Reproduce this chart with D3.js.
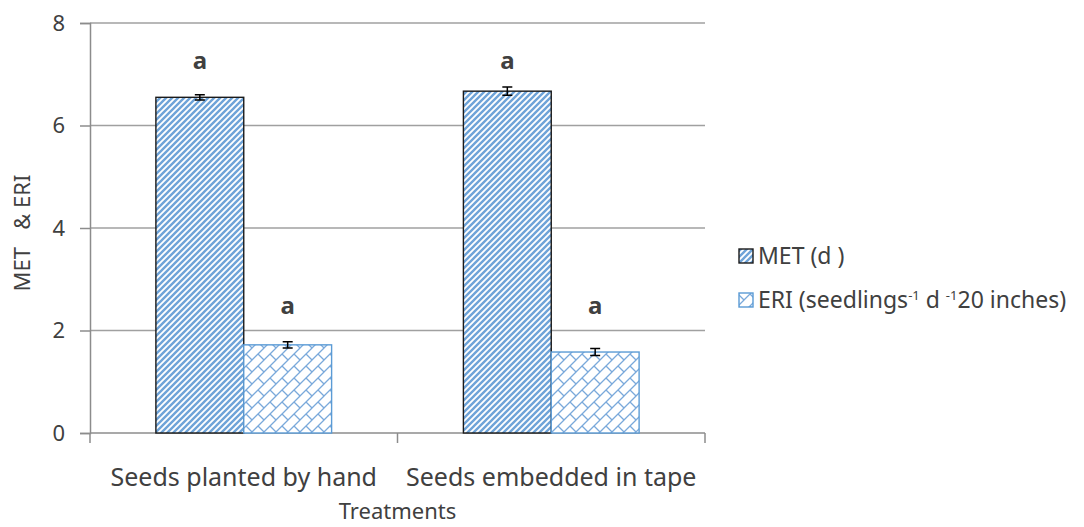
<!DOCTYPE html>
<html>
<head>
<meta charset="utf-8">
<script src="https://cdn.jsdelivr.net/npm/d3@7"></script>
<style>
  html, body { margin: 0; padding: 0; background: #fff; }
  svg { display: block; }
  text { font-family: "Noto Sans", "Open Sans", sans-serif; fill: #404040; }
</style>
</head>
<body>
<svg id="chart" width="1084" height="527"></svg>
<script>
// ---- data ----
const categories = ["Seeds planted by hand", "Seeds embedded in tape"];
const seriesNames = ["MET", "ERI"];
const metValues = [6.55, 6.67];
const eriValues = [1.72, 1.58];
const metErrors = [0.05, 0.08];
const eriErrors = [0.06, 0.07];
const metLetters = ["a", "a"];
const eriLetters = ["a", "a"];
const metLetterY = [7.1, 7.1];
const eriLetterY = [2.32, 2.32];
const yTicks = [0, 2, 4, 6, 8];
const yTitle = "MET   & ERI";
const xTitle = "Treatments";

const svg = d3.select("#chart");
const plotL = 90, plotR = 705, plotT = 23, plotB = 433;

const x0 = d3.scaleBand().domain(categories).range([plotL, plotR]).paddingInner(0).paddingOuter(0);
const x1 = d3.scaleBand().domain(seriesNames).range([0, x0.bandwidth()]).paddingInner(0).paddingOuter(0.75);
const y = d3.scaleLinear().domain([0, 8]).range([plotB, plotT]);

// patterns
const defs = svg.append("defs");
const blue = "#5b9bd5";
const pStripe = defs.append("pattern").attr("id", "stripe").attr("patternUnits", "userSpaceOnUse")
  .attr("width", 6).attr("height", 6);
pStripe.append("rect").attr("width", 6).attr("height", 6).attr("fill", "#fff");
pStripe.append("path").attr("d", "M-1.5,1.5 L1.5,-1.5 M0,6 L6,0 M4.5,7.5 L7.5,4.5")
  .attr("stroke", "#6ea3d8").attr("stroke-width", 2.4);

const pBrick = defs.append("pattern").attr("id", "brick").attr("patternUnits", "userSpaceOnUse")
  .attr("width", 12).attr("height", 12);
pBrick.append("rect").attr("width", 12).attr("height", 12).attr("fill", "#fff");
pBrick.append("path").attr("d", "M0,12 L12,0 M-1,1 L1,-1 M11,13 L13,11 M6,6 L12,12")
  .attr("stroke", "#7aa9db").attr("stroke-width", 1.3);

// gridlines
svg.append("g").selectAll("line").data(yTicks.filter(d => d > 0)).join("line")
  .attr("x1", plotL).attr("x2", plotR)
  .attr("y1", d => y(d)).attr("y2", d => y(d))
  .attr("stroke", "#a0a0a0").attr("stroke-width", 1.3);

// y axis
const yAxis = svg.append("g").attr("transform", `translate(${plotL},0)`)
  .call(d3.axisLeft(y).tickValues(yTicks).tickSize(10).tickPadding(15).tickFormat(d3.format("d")));
yAxis.select(".domain").attr("stroke", "#8c8c8c").attr("stroke-width", 1.5);
yAxis.selectAll(".tick line").attr("stroke", "#8c8c8c").attr("stroke-width", 1.5);
yAxis.selectAll(".tick text").attr("font-size", 22).attr("fill", "#404040")
  .style("font-family", "'Noto Sans', sans-serif");

// x axis
const xAxisG = svg.append("g").attr("transform", `translate(0,${plotB})`);
xAxisG.append("line").attr("x1", plotL).attr("x2", plotR).attr("stroke", "#8c8c8c").attr("stroke-width", 1.5);
const boundaries = [plotL].concat(categories.map(c => x0(c) + x0.bandwidth()));
xAxisG.selectAll("line.tk").data(boundaries).join("line").attr("class", "tk")
  .attr("x1", d => d).attr("x2", d => d).attr("y1", 0).attr("y2", 10)
  .attr("stroke", "#8c8c8c").attr("stroke-width", 1.5);
xAxisG.selectAll("text.cat").data(categories).join("text").attr("class", "cat")
  .attr("x", d => x0(d) + x0.bandwidth() / 2).attr("y", 53)
  .attr("text-anchor", "middle").attr("font-size", 25).text(d => d);

// bars
const series = [
  { name: "MET", values: metValues, errors: metErrors, letters: metLetters, ly: metLetterY, fill: "url(#stripe)", stroke: "#1a1a1a" },
  { name: "ERI", values: eriValues, errors: eriErrors, letters: eriLetters, ly: eriLetterY, fill: "url(#brick)", stroke: blue }
];
series.forEach(s => {
  const g = svg.append("g");
  const data = categories.map((c, i) => ({ c, v: s.values[i], e: s.errors[i], l: s.letters[i], ly: s.ly[i] }));
  g.selectAll("rect").data(data).join("rect")
    .attr("x", d => x0(d.c) + x1(s.name))
    .attr("y", d => y(d.v))
    .attr("width", x1.bandwidth())
    .attr("height", d => y(0) - y(d.v))
    .attr("fill", s.fill).attr("stroke", s.stroke).attr("stroke-width", 1.4);
  const cx = d => x0(d.c) + x1(s.name) + x1.bandwidth() / 2;
  g.selectAll("path.err").data(data).join("path").attr("class", "err")
    .attr("d", d => `M${cx(d) - 5},${y(d.v + d.e)} H${cx(d) + 5} M${cx(d)},${y(d.v + d.e)} V${y(d.v - d.e)} M${cx(d) - 5},${y(d.v - d.e)} H${cx(d) + 5}`)
    .attr("stroke", "#000").attr("stroke-width", 1.5).attr("fill", "none");
  g.selectAll("text").data(data).join("text")
    .attr("x", cx).attr("y", d => y(d.ly))
    .attr("text-anchor", "middle").attr("font-size", 24).attr("font-weight", "bold")
    .text(d => d.l);
});

// axis titles
svg.append("text").attr("transform", `translate(30,233) rotate(-90)`)
  .attr("text-anchor", "middle").attr("font-size", 22).attr("xml:space", "preserve")
  .style("white-space", "pre").text(yTitle);
svg.append("text").attr("x", (plotL + plotR) / 2).attr("y", 519)
  .attr("text-anchor", "middle").attr("font-size", 22).text(xTitle);

// legend
const lg = svg.append("g");
lg.append("rect").attr("x", 739).attr("y", 249).attr("width", 14).attr("height", 14)
  .attr("fill", "url(#stripe)").attr("stroke", "#1a1a1a").attr("stroke-width", 1.4);
lg.append("text").attr("x", 758).attr("y", 264).attr("font-size", 23).attr("xml:space", "preserve")
  .style("white-space", "pre").text("MET (d )");
lg.append("rect").attr("x", 739).attr("y", 293).attr("width", 14).attr("height", 14)
  .attr("fill", "url(#brick)").attr("stroke", blue).attr("stroke-width", 1.4);
const t2 = lg.append("text").attr("x", 758).attr("y", 308).attr("font-size", 23).attr("xml:space", "preserve")
  .style("white-space", "pre");
t2.append("tspan").text("ERI (seedlings");
t2.append("tspan").attr("dy", -8).attr("font-size", 13).text("-1");
t2.append("tspan").attr("dy", 8).text(" d ");
t2.append("tspan").attr("dy", -8).attr("font-size", 13).text("-1");
t2.append("tspan").attr("dy", 8).text("20 inches)");
</script>
</body>
</html>
